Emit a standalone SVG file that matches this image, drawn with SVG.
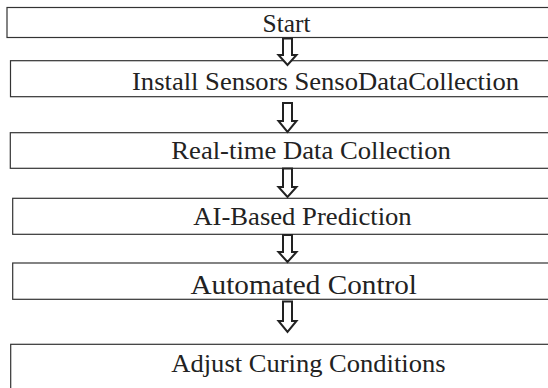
<svg xmlns="http://www.w3.org/2000/svg" width="548" height="388" viewBox="0 0 548 388">
<style>
.box{fill:#fff;stroke:#333;stroke-width:1.2}
.lbl{fill:#222}
.arr{fill:#fff;stroke:#222;stroke-width:2;stroke-linejoin:miter}
</style>
<rect width="548" height="388" fill="#fff"/>
<g id="n-start"><rect class="box" x="7" y="7.5" width="560" height="30"/><text class="lbl" font-family="Liberation Serif, serif" x="262.5" y="32.3" font-size="24.5" textLength="48" lengthAdjust="spacingAndGlyphs">Start</text></g>
<g id="n-install"><rect class="box" x="10.5" y="60.7" width="560" height="36"/><text class="lbl" font-family="Liberation Serif, serif" x="132" y="89.5" font-size="24.5" textLength="387" lengthAdjust="spacingAndGlyphs">Install Sensors SensoDataCollection</text></g>
<g id="n-realtime"><rect class="box" x="10.3" y="132.7" width="560" height="35.6"/><text class="lbl" font-family="Liberation Serif, serif" x="171.3" y="159" font-size="24.5" textLength="279.6" lengthAdjust="spacingAndGlyphs">Real-time Data Collection</text></g>
<g id="n-ai"><rect class="box" x="12.7" y="198.3" width="560" height="36"/><text class="lbl" font-family="Liberation Serif, serif" x="193.3" y="225" font-size="24.5" textLength="218.4" lengthAdjust="spacingAndGlyphs">AI-Based Prediction</text></g>
<g id="n-auto"><rect class="box" x="12.7" y="263" width="560" height="36.3"/><text class="lbl" font-family="Liberation Serif, serif" x="190.5" y="294" font-size="27" textLength="226.5" lengthAdjust="spacingAndGlyphs">Automated Control</text></g>
<g id="n-adjust"><rect class="box" x="10.7" y="344.3" width="560" height="60"/><text class="lbl" font-family="Liberation Serif, serif" x="171.3" y="372" font-size="24.5" textLength="274.3" lengthAdjust="spacingAndGlyphs">Adjust Curing Conditions</text></g>
<g id="connectors">
<path class="arr" d="M283,38.5 H292 V55 H296.5 L287.5,65 L278.5,55 H283 Z"/>
<path class="arr" d="M283,103 H292 V121 H296.5 L287.5,132 L278.5,121 H283 Z"/>
<path class="arr" d="M283,168.5 H292 V187 H296.5 L287.5,197 L278.5,187 H283 Z"/>
<path class="arr" d="M283,235 H292 V252 H296.5 L287.5,262 L278.5,252 H283 Z"/>
<path class="arr" d="M283,301.5 H292 V321 H296.5 L287.5,332 L278.5,321 H283 Z"/>
</g>
</svg>
